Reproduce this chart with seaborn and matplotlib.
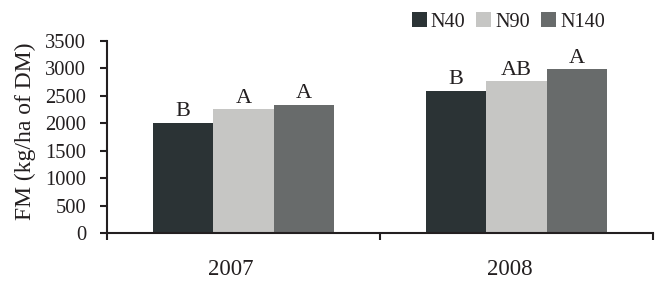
import matplotlib
matplotlib.use("Agg")
import matplotlib.pyplot as plt
from matplotlib.transforms import ScaledTranslation
from matplotlib.patches import Patch
import seaborn as sns
import pandas as pd

years = ["2007", "2008"]
treatments = ["N40", "N90", "N140"]
n40 = [2005, 2590]
n90 = [2257, 2767]
n140 = [2335, 2980]
letters_n40 = ["B", "B"]
letters_n90 = ["A", "AB"]
letters_n140 = ["A", "A"]
colors = ["#2b3335", "#c6c6c4", "#686b6b"]

rows = []
for t, vals in zip(treatments, [n40, n90, n140]):
    for y, v in zip(years, vals):
        rows.append({"year": y, "treatment": t, "FM": v})
df = pd.DataFrame(rows)

sns.set_style("white")
plt.rcParams["font.family"] = ["Liberation Serif", "DejaVu Serif"]
tc = "#231f20"
plt.rcParams["text.color"] = tc
plt.rcParams["axes.labelcolor"] = tc
plt.rcParams["xtick.color"] = tc
plt.rcParams["ytick.color"] = tc

fig = plt.figure(figsize=(6.62, 2.83), dpi=100)
ax = fig.add_axes([107/662, 1-233/283, 546/662, (233-40.7)/283])

sns.barplot(data=df, x="year", y="FM", hue="treatment", order=years,
            hue_order=treatments, palette=colors, width=0.663, saturation=1,
            edgecolor="none", linewidth=0, ax=ax, legend=False)

for cont, labs in zip(ax.containers, [letters_n40, letters_n90, letters_n140]):
    ax.bar_label(cont, labels=labs, padding=1, fontsize=16, color=tc)

ax.set_ylim(0, 3500)
ax.set_xlim(-0.5, 1.5)
ax.set_yticks(range(0, 3501, 500))
ax.tick_params(axis="y", direction="out", length=5, width=1.5, pad=10, labelsize=14.8, left=True)
ax.set_xticks([0, 1])
ax.set_xticks([-0.5, 0.5, 1.5], minor=True)
ax.tick_params(axis="x", which="major", length=0, pad=19, labelsize=16.5)
ax.tick_params(axis="x", which="minor", direction="out", length=5, width=1.5, bottom=True)
for lab, dx in zip(ax.get_xticklabels(), [-0.13, -0.07]):
    lab.set_transform(lab.get_transform() + ScaledTranslation(dx, 0, fig.dpi_scale_trans))

ax.set_xlabel("")
ax.set_ylabel("FM (kg/ha of DM)", fontsize=17)
ax.yaxis.set_label_coords(-0.13, 0.53)

for s in ["top", "right"]:
    ax.spines[s].set_visible(False)
for s in ["left", "bottom"]:
    ax.spines[s].set_color(tc)
    ax.spines[s].set_linewidth(1.5)

handles = [Patch(facecolor=c, edgecolor="none", label=t) for c, t in zip(colors, treatments)]
fig.legend(handles=handles, loc="center right", bbox_to_anchor=(0.914, 0.922),
           ncol=3, frameon=False, fontsize=14.6, handlelength=0.74, handleheight=0.74,
           handletextpad=0.2, columnspacing=0.55, borderpad=0, borderaxespad=0)

fig.savefig("out.png", dpi=100)
